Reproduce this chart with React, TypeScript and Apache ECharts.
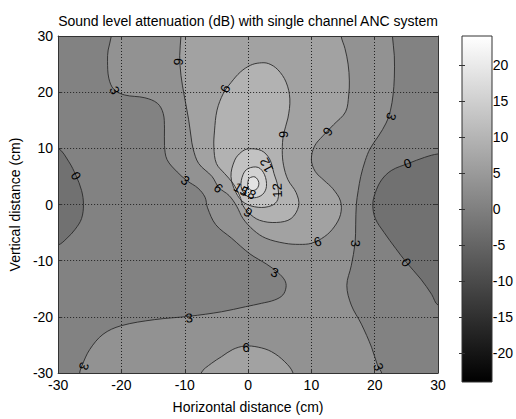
import React, { useEffect, useRef } from "react";
import * as echarts from "echarts";

// ---- axis ticks ----
const xTicks = [-30, -20, -10, 0, 10, 20, 30];
const yTicks = [-30, -20, -10, 0, 10, 20, 30];
const cbarTicks = [-20, -15, -10, -5, 0, 5, 10, 15, 20];
const cbarMin = -24;
const cbarMax = 24;

// ---- contour lines (x cm, y cm) ----
const c0Left: [number, number][] = [
  [-30, 10.0], [-28.3, 7.6], [-27.2, 5.2], [-26.3, 2.5], [-26.0, 0.0], [-26.3, -2.5],
  [-27.3, -4.4], [-28.6, -6.0], [-30, -7.2],
];
const c0Right: [number, number][] = [
  [30, 9.0], [27.9, 8.4], [25.3, 7.3], [22.7, 6.1], [21.1, 4.4], [20.1, 2.1], [19.7, 0.0],
  [20.1, -2.5], [21.5, -5.0], [23.3, -7.8], [25.0, -10.3], [27.3, -13.3], [29.0, -16.0], [30, -17.9],
];
const c3Left: [number, number][] = [
  [-21.6, 30], [-22.1, 27.5], [-22.2, 25.5], [-22.0, 22.5], [-21.2, 20.5], [-19.5, 19.5],
  [-16.3, 19.0], [-14.3, 18.0], [-13.4, 16.2], [-13.2, 13.6], [-13.2, 10.5], [-12.8, 8.0],
  [-11.2, 5.8], [-9.6, 4.2], [-7.9, 2.9], [-6.8, 1.3], [-6.4, -0.6], [-5.1, -3.6], [-2.6, -6.0],
  [0.3, -8.8], [2.9, -10.6], [4.7, -12.1], [5.8, -13.5], [6.0, -14.7], [5.5, -16.1],
  [4.2, -17.0], [2.1, -17.6], [-0.4, -18.2], [-4.2, -19.1], [-9.3, -19.9], [-14.8, -20.5],
  [-20.1, -21.6], [-22.9, -23.1], [-25.0, -25.8], [-26.2, -28.6], [-26.6, -30],
];
const c3Right: [number, number][] = [
  [22.8, 30], [23.1, 26.5], [23.1, 22.5], [22.9, 19.5], [22.5, 16.8], [21.8, 14.5],
  [20.6, 12.2], [19.3, 10.0], [18.5, 7.8], [17.8, 5.0], [17.4, 2.5], [17.1, 0.0],
  [17.0, -3.5], [16.9, -6.9], [16.3, -10.9], [15.6, -14.4], [16.3, -17.9], [17.9, -21.3],
  [19.5, -25.4], [20.5, -28.8], [21.1, -30],
];
const c6Main: [number, number][] = [
  [-10.6, 30], [-10.8, 26.5], [-10.6, 23], [-10.1, 19.5], [-9.4, 15.2], [-9.0, 12.0],
  [-8.7, 10.0], [-7.8, 7.3], [-5.7, 5.0], [-4.6, 3.0], [-3.0, 1.6], [-1.8, -0.3],
  [-0.8, -2.5], [0.9, -4.6], [2.8, -6.0], [5.8, -6.9], [8.1, -7.1], [10.0, -6.9],
  [12.1, -5.7], [13.6, -4.0], [14.6, -1.8], [14.6, 0.6], [13.4, 2.8], [12.0, 4.3],
  [10.6, 5.9], [10.0, 8.0], [10.5, 10.4], [11.8, 12.2], [13.5, 14.2], [15.4, 16.5],
  [15.9, 19.5], [16.0, 22.0], [15.8, 25.0], [15.3, 27.8], [14.7, 30],
];
const c6Bottom: [number, number][] = [
  [-7.4, -30], [-5.8, -28.3], [-4.2, -27.1], [-2.4, -25.8], [-0.5, -25.2], [1.6, -25.4],
  [3.7, -26.2], [5.8, -28.0], [7.1, -30],
];
const c9: [number, number][] = [
  [-2.7, 21.7], [-1.2, 23.6], [0.4, 24.8], [1.8, 25.2], [3.2, 25.1], [4.7, 24.0],
  [6.0, 21.8], [6.6, 18.8], [6.3, 15.4], [5.6, 12.5], [5.4, 9.6], [5.6, 7.0], [6.3, 4.4],
  [7.6, 2.1], [8.0, -0.2], [6.8, -2.5], [4.5, -3.2], [1.8, -2.8], [0.0, -1.4], [-0.8, -0.2],
  [-1.3, 1.5], [-2.4, 3.8], [-3.7, 5.5], [-5.0, 7.3], [-5.4, 10.2], [-5.3, 13.1],
  [-4.9, 16.8], [-3.9, 19.8],
];
const c12: [number, number][] = [
  [0, 9.9], [2.1, 9.6], [3.4, 8.1], [4.1, 5.5], [4.7, 3.2], [4.7, 0.9], [3.7, -0.2],
  [1.6, -0.5], [-0.6, 0.3], [-1.9, 2.1], [-2.7, 5.0], [-2.1, 7.9], [-1.1, 9.3],
];
const c15: [number, number][] = [
  [0, 6.4], [1.6, 6.6], [2.6, 5.3], [2.9, 3.2], [2.3, 1.8], [1.0, 1.2], [-0.3, 1.6],
  [-1.1, 3.2], [-0.8, 5.3],
];
const c18: [number, number][] = [
  [0.2, 4.7], [1.1, 4.9], [1.7, 3.9], [1.4, 2.8], [0.6, 2.5], [0.0, 3.1], [0.0, 4.1],
];

// ---- contour labels ----
const contourLabelPos: [number, number][] = [
  [-21.1, 20.3], [-11.0, 25.4], [-3.6, 20.6], [-27.2, 5.1], [-9.9, 4.3], [-4.7, 2.9],
  [2.9, 7.0], [4.6, 2.5], [-1.1, 2.7], [0.1, 2.1], [0.0, -1.4], [5.6, 12.5], [12.6, 13.0],
  [22.6, 15.7], [25.2, 7.3], [11.0, -6.6], [16.9, -6.9], [25.0, -10.3], [4.2, -12.1],
  [-9.3, -20.2], [-25.9, -28.8], [-0.3, -25.4], [20.6, -28.9],
];
const contourLabelText: string[] = [
  "3", "6", "9", "0", "3", "6", "12", "12", "15", "18", "9", "9", "6",
  "3", "0", "6", "3", "0", "3", "3", "3", "6", "3",
];
const contourLabelAngle: number[] = [
  -65, -95, -115, -60, -35, -40, 118, 92, -30, -30, -35, 90, -125,
  -110, 20, 17, -90, -53, -20, 5, -110, 0, -70,
];

// ---- filled regions: level = lower contour value of the band ----
type Region = { level: number; lines: [number, number][][] };
const regions: Region[] = [
  { level: 3, lines: [c3Left, [...c3Right].reverse()] },
  { level: -3, lines: [c0Left] },
  { level: -3, lines: [c0Right] },
  { level: 6, lines: [c6Main] },
  { level: 6, lines: [c6Bottom] },
  { level: 9, lines: [c9] },
  { level: 12, lines: [c12] },
  { level: 15, lines: [c15] },
  { level: 18, lines: [c18] },
];
const openLines = [c0Left, c0Right, c3Left, c3Right, c6Main, c6Bottom];
const closedLines = [c9, c12, c15, c18];

const FONT = '"Liberation Sans", Arial, Helvetica, sans-serif';
const SMOOTH = 0.35;

function grayOf(v: number): string {
  let idx = Math.floor(((v - cbarMin) / (cbarMax - cbarMin)) * 64);
  idx = Math.max(0, Math.min(63, idx));
  const g = Math.round((idx / 63) * 255);
  return `rgb(${g},${g},${g})`;
}

function extendPt(p: [number, number], pix: number[]): number[] | null {
  const d = 14;
  if (p[0] <= -29.99) return [pix[0] - d, pix[1]];
  if (p[0] >= 29.99) return [pix[0] + d, pix[1]];
  if (p[1] >= 29.99) return [pix[0], pix[1] - d];
  if (p[1] <= -29.99) return [pix[0], pix[1] + d];
  return null;
}

function buildPix(lines: [number, number][][], api: any): number[][] {
  const out: number[][] = [];
  for (const line of lines) {
    const pix = line.map((p) => api.coord(p));
    const a = extendPt(line[0], pix[0]);
    if (a) out.push(a);
    out.push(...pix);
    const b = extendPt(line[line.length - 1], pix[pix.length - 1]);
    if (b) out.push(b);
  }
  return out;
}

export default function App() {
  const ref = useRef<HTMLDivElement>(null);
  useEffect(() => {
    if (!ref.current) return;
    const chart = echarts.init(ref.current, undefined, { renderer: "svg" });
    const axisColor = "#333";
    const gridLine = { show: true, lineStyle: { color: "#222", width: 1, type: [1, 2] as any } };
    const option: any = {
      animation: false,
      backgroundColor: "#fff",
      grid: [
        { left: 58, top: 36, width: 380, height: 346, show: true, backgroundColor: grayOf(0), borderWidth: 0 },
        { left: 462, top: 36, width: 30, height: 346, show: false },
      ],
      graphic: [
        {
          type: "text",
          x: 248,
          y: 21,
          style: {
            text: "Sound level attenuation (dB) with single channel ANC system",
            font: `14px ${FONT}`,
            fill: "#000",
            align: "center",
            verticalAlign: "middle",
          },
        },
        {
          type: "rect",
          z: 1,
          shape: { x: 462, y: 36, width: 30, height: 346 },
          style: {
            fill: new echarts.graphic.LinearGradient(0, 0, 0, 1, [
              { offset: 0, color: "#ffffff" },
              { offset: 1, color: "#000000" },
            ]),
            stroke: axisColor,
            lineWidth: 1,
          },
        },
      ],
      xAxis: [
        {
          gridIndex: 0, type: "value", position: "bottom", min: -30, max: 30, interval: 10, z: 5,
          axisLine: { show: true, onZero: false, lineStyle: { color: axisColor } },
          axisTick: { show: true, inside: true, length: 4, lineStyle: { color: axisColor } },
          axisLabel: { color: "#000", fontSize: 14, fontFamily: FONT, margin: 5, customValues: xTicks },
          splitLine: gridLine,
          name: "Horizontal distance (cm)", nameLocation: "middle", nameGap: 27,
          nameTextStyle: { color: "#000", fontSize: 14, fontFamily: FONT },
        },
        {
          gridIndex: 0, type: "value", position: "top", min: -30, max: 30, interval: 10, z: 5,
          axisLine: { show: true, onZero: false, lineStyle: { color: axisColor } },
          axisTick: { show: true, inside: true, length: 4, lineStyle: { color: axisColor } },
          axisLabel: { show: false }, splitLine: { show: false },
        },
        { gridIndex: 1, type: "value", min: 0, max: 1, show: false },
      ],
      yAxis: [
        {
          gridIndex: 0, type: "value", position: "left", min: -30, max: 30, interval: 10, z: 5,
          axisLine: { show: true, onZero: false, lineStyle: { color: axisColor } },
          axisTick: { show: true, inside: true, length: 4, lineStyle: { color: axisColor } },
          axisLabel: { color: "#000", fontSize: 14, fontFamily: FONT, margin: 5, customValues: yTicks },
          splitLine: gridLine,
          name: "Vertical distance (cm)", nameLocation: "middle", nameGap: 30,
          nameTextStyle: { color: "#000", fontSize: 14, fontFamily: FONT },
        },
        {
          gridIndex: 0, type: "value", position: "right", min: -30, max: 30, interval: 10, z: 5,
          axisLine: { show: true, onZero: false, lineStyle: { color: axisColor } },
          axisTick: { show: true, inside: true, length: 4, lineStyle: { color: axisColor } },
          axisLabel: { show: false }, splitLine: { show: false },
        },
        {
          gridIndex: 1, type: "value", position: "right", min: cbarMin, max: cbarMax, z: 5,
          axisLine: { show: false },
          axisTick: { show: true, inside: true, length: 3, customValues: cbarTicks, lineStyle: { color: axisColor } },
          axisLabel: { color: "#000", fontSize: 14, fontFamily: FONT, margin: 3, customValues: cbarTicks },
          splitLine: { show: false },
        },
        {
          gridIndex: 1, type: "value", position: "left", min: cbarMin, max: cbarMax, z: 5,
          axisLine: { show: false },
          axisTick: { show: true, inside: true, length: 3, customValues: cbarTicks, lineStyle: { color: axisColor } },
          axisLabel: { show: false }, splitLine: { show: false },
        },
      ],
      series: [
        {
          type: "custom", name: "fills", xAxisIndex: 0, yAxisIndex: 0, clip: true, silent: true, z: 2,
          data: regions.map(() => [0, 0]),
          renderItem: (params: any, api: any) => {
            const r = regions[params.dataIndex];
            return {
              type: "polygon",
              shape: { points: buildPix(r.lines, api), smooth: SMOOTH },
              style: { fill: grayOf(r.level), stroke: "none" },
            };
          },
        },
        {
          type: "custom", name: "openLines", xAxisIndex: 0, yAxisIndex: 0, clip: true, silent: true, z: 3,
          data: openLines.map(() => [0, 0]),
          renderItem: (params: any, api: any) => ({
            type: "polyline",
            shape: { points: buildPix([openLines[params.dataIndex]], api), smooth: SMOOTH },
            style: { fill: "none", stroke: "#2a2a2a", lineWidth: 0.9 },
          }),
        },
        {
          type: "custom", name: "closedLines", xAxisIndex: 0, yAxisIndex: 0, clip: true, silent: true, z: 3,
          data: closedLines.map(() => [0, 0]),
          renderItem: (params: any, api: any) => ({
            type: "polygon",
            shape: { points: buildPix([closedLines[params.dataIndex]], api), smooth: SMOOTH },
            style: { fill: "none", stroke: "#2a2a2a", lineWidth: 0.9 },
          }),
        },
        {
          type: "custom", name: "labels", xAxisIndex: 0, yAxisIndex: 0, clip: true, silent: true, z: 6,
          data: contourLabelPos.map((p) => [p[0], p[1]]),
          renderItem: (params: any, api: any) => {
            const i = params.dataIndex;
            const p = api.coord(contourLabelPos[i]);
            return {
              type: "text",
              x: p[0],
              y: p[1],
              rotation: (contourLabelAngle[i] * Math.PI) / 180,
              style: {
                text: contourLabelText[i],
                font: `13px ${FONT}`,
                fill: "#000",
                align: "center",
                verticalAlign: "middle",
              },
            };
          },
        },
      ],
    };
    chart.setOption(option);
    return () => chart.dispose();
  }, []);
  return (
    <div
      ref={ref}
      style={{ position: "fixed", left: 0, top: 0, width: 516, height: 419, background: "#fff" }}
    />
  );
}
